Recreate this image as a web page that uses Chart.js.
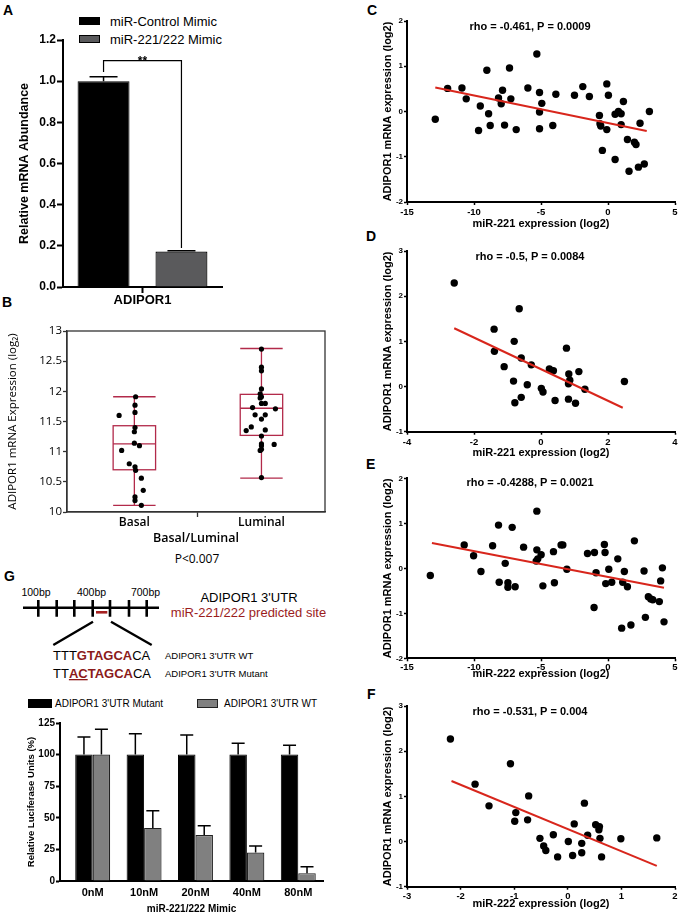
<!DOCTYPE html>
<html>
<head>
<meta charset="utf-8">
<script src="https://cdn.jsdelivr.net/npm/chart.js@4.4.1/dist/chart.umd.min.js"></script>
<style>
  body { margin: 0; background: #fff; font-family: "Liberation Sans", Arial, sans-serif; }
  #page { position: relative; width: 682px; height: 918px; overflow: hidden; background: #fff; }
  canvas { position: absolute; }
  .t { position: absolute; white-space: nowrap; line-height: 1; color: #000; }
  .lt { position: absolute; font-weight: bold; font-size: 14px; line-height: 1; }
  .sq { position: absolute; box-sizing: border-box; }
</style>
</head>
<body>
<div id="page">
  <div class="lt" style="left:3px;top:3px">A</div>
  <div class="lt" style="left:2px;top:295px">B</div>
  <div class="lt" style="left:4px;top:569px">G</div>
  <div class="lt" style="left:367px;top:3px">C</div>
  <div class="lt" style="left:366px;top:229px">D</div>
  <div class="lt" style="left:366px;top:457px">E</div>
  <div class="lt" style="left:367px;top:687px">F</div>

  <!-- legend A -->
  <div class="sq" style="left:79px;top:17px;width:21px;height:8px;background:#000"></div>
  <div class="t" style="left:110px;top:15px;font-size:13px">miR-Control Mimic</div>
  <div class="sq" style="left:79px;top:35px;width:21px;height:8px;background:#5a5a5c;border:1px solid #000"></div>
  <div class="t" style="left:110px;top:33px;font-size:13px">miR-221/222 Mimic</div>

  <div class="t" style="left:147px;top:553px;width:100px;text-align:center;font-size:12px;font-family:'Open Sans',sans-serif">P&lt;0.007</div>

  <!-- legend G -->
  <div class="sq" style="left:28px;top:699px;width:24px;height:9px;background:#000"></div>
  <div class="t" style="left:55px;top:698.5px;font-size:10px">ADIPOR1 3'UTR Mutant</div>
  <div class="sq" style="left:197px;top:699px;width:21px;height:9px;background:#808080;border:1px solid #222"></div>
  <div class="t" style="left:224px;top:698.5px;font-size:10px">ADIPOR1 3'UTR WT</div>

  <svg style="position:absolute;left:0;top:575px" width="340" height="110" viewBox="0 575 340 110">
    <g font-family="Liberation Sans, Arial, sans-serif">
      <text x="36" y="595.5" font-size="10.5" text-anchor="middle" fill="#000">100bp</text>
      <text x="91.5" y="595.5" font-size="10.5" text-anchor="middle" fill="#000">400bp</text>
      <text x="145.5" y="595.5" font-size="10.5" text-anchor="middle" fill="#000">700bp</text>
      <line x1="23" y1="607.7" x2="159" y2="607.7" stroke="#000" stroke-width="2.6"/>
      <path d="M38.3 600V616.7M56.7 600V616.7M74.3 600V616.7M92.7 600V616.7M110 600V616.7M129 600V616.7M146.7 600V616.7" stroke="#000" stroke-width="2.6"/>
      <line x1="96" y1="612.3" x2="107.3" y2="612.3" stroke="#a52020" stroke-width="2.6"/>
      <path d="M93 621.7L53.3 645M111 621.7L151.7 645" stroke="#000" stroke-width="2.4" fill="none"/>
      <text x="249" y="601.6" font-size="13" text-anchor="middle" fill="#000">ADIPOR1 3'UTR</text>
      <text x="248.5" y="617.3" font-size="13" fill="#9b1c1c" text-anchor="middle">miR-221/222 predicted site</text>
      <text x="53" y="659.7" font-size="13" fill="#000">TTT<tspan font-weight="bold" fill="#8b1a1a">GTAGCA</tspan><tspan fill="#000">CA</tspan></text>
      <text x="165" y="658.5" font-size="9.5" fill="#000">ADIPOR1 3'UTR WT</text>
      <text x="53" y="678" font-size="13" fill="#000">TT<tspan font-weight="bold" fill="#8b1a1a" text-decoration="underline">AC</tspan><tspan font-weight="bold" fill="#8b1a1a">TAGCA</tspan><tspan fill="#000">CA</tspan></text>
      <text x="165" y="676.8" font-size="9.5" fill="#000">ADIPOR1 3'UTR Mutant</text>
    </g>
  </svg>

  <canvas id="chartA" width="340" height="310" style="left:0;top:0"></canvas>
  <canvas id="chartB" width="340" height="232" style="left:0;top:315px"></canvas>
  <canvas id="chartG" width="340" height="203" style="left:0;top:715px"></canvas>
  <canvas id="chartC" width="342" height="231" style="left:340px;top:0"></canvas>
  <canvas id="chartD" width="342" height="230" style="left:340px;top:230px"></canvas>
  <canvas id="chartE" width="342" height="230" style="left:340px;top:455px"></canvas>
  <canvas id="chartF" width="342" height="233" style="left:340px;top:685px"></canvas>
</div>

<script>
// ---- data ----
const aLabels = ['ADIPOR1'];
const aControl = [1.0];
const aControlErr = [0.022];
const aMimic = [0.172];
const aMimicErr = [0.004];

const bCategories = ['Basal', 'Luminal'];
// min, q1, median, q3, max
const bBasalStats = [10.11, 10.70, 11.13, 11.43, 11.91];
const bLuminalStats = [10.56, 11.27, 11.72, 11.95, 12.71];
const bBasalPts = [[1.01,11.91],[1.005,11.77],[1.005,11.65],[0.88,11.60],[1.005,11.40],[1.0,11.33],[1.0,11.14],[1.04,11.10],[0.90,11.02],
  [0.96,10.80],[1.005,10.75],[1.01,10.69],[1.055,10.56],[1.07,10.36],[1.005,10.25],[1.005,10.19],[1.055,10.11]];
const bLuminalPts = [[2.0,12.70],[2.0,12.40],[2.0,12.34],[2.0,12.04],[1.99,11.96],[2.0,11.91],[1.99,11.89],[2.0,11.80],[2.03,11.80],
  [1.93,11.73],[2.11,11.71],[2.03,11.61],[1.95,11.61],[2.0,11.54],[1.88,11.35],[1.92,11.41],[2.03,11.36],[2.0,11.26],
  [2.0,11.13],[2.0,11.10],[2.10,11.12],[2.0,11.04],[1.99,11.02],[2.0,10.57]];

const gLabels = ['0nM', '10nM', '20nM', '40nM', '80nM'];
const gMutant = [100, 100, 100, 100, 100];
const gMutantErr = [14, 16.5, 15.5, 9, 7.3];
const gWT = [100, 42, 36.3, 22.6, 6.2];
const gWTErr = [20, 13.6, 7.4, 5.1, 5.1];

const cPoints = [[-12.89,-0.17],[-11.97,0.51],[-10.9,0.52],[-10.58,0.28],[-9.53,0.12],[-9.66,-0.42],[-9.04,0.91],[-8.91,-0.05],
  [-8.79,-0.31],[-8.17,0.30],[-7.97,0.17],[-7.87,0.47],[-7.72,-0.30],[-7.35,0.96],[-7.25,0.28],[-6.85,-0.40],[-5.98,0.52],
  [-5.31,1.27],[-5.11,0.42],[-4.94,0.18],[-5.11,-0.01],[-5.11,-0.38],[-4.12,-0.31],[-3.89,0.38],[-2.50,0.36],[-1.88,0.55],
  [-1.39,0.33],[-0.64,-0.09],[-0.54,-0.32],[-0.6,-0.27],[-0.42,-0.86],[-0.09,0.61],[0.03,0.36],[-0.09,-0.40],[0.53,-0.06],
  [0.78,0.0],[0.98,-0.05],[1.15,0.22],[0.98,-0.29],[0.53,-1.06],[1.45,-0.62],[1.57,-1.32],[1.97,-0.68],[2.09,-0.73],
  [2.39,-0.26],[2.27,-1.23],[2.71,-1.16],[3.09,0.0]];
const cLine = [[-12.89,0.53],[2.89,-0.43]];

const dPoints = [[-2.59,2.29],[-0.65,1.72],[-1.40,1.27],[-0.80,1.00],[-1.39,0.78],[-0.59,0.63],[-1.10,0.44],[-0.29,0.48],
  [-0.82,0.12],[-0.41,0.04],[0.25,0.39],[0.37,0.35],[0.01,-0.04],[0.06,-0.12],[-0.78,-0.36],[-0.59,-0.24],[0.42,-0.31],
  [0.76,0.85],[0.83,0.28],[0.86,0.14],[0.82,0.06],[1.13,0.33],[1.31,-0.06],[0.82,-0.28],[1.03,-0.37],[2.49,0.11]];
const dLine = [[-2.59,1.29],[2.44,-0.47]];

const ePoints = [[-13.26,-0.16],[-10.73,0.52],[-10.03,0.28],[-9.48,-0.07],[-8.61,0.50],[-8.17,0.96],[-8.12,-0.31],[-7.67,0.11],
  [-7.47,-0.32],[-7.47,-0.42],[-7.15,0.91],[-6.93,-0.41],[-6.30,0.47],[-5.31,1.27],[-5.31,0.41],[-5.36,0.16],[-5.24,0.21],
  [-4.99,0.30],[-4.86,-0.39],[-4.07,0.37],[-4.00,-0.32],[-3.50,0.52],[-3.37,0.52],[-3.07,-0.02],[-1.53,0.33],[-1.01,0.35],
  [-0.89,-0.10],[-1.04,-0.87],[-0.27,0.53],[-0.22,0.35],[-0.17,-0.34],[0.06,-0.02],[0.28,-0.31],[0.73,0.21],[1.10,-0.31],
  [1.22,-0.07],[1.45,-0.41],[1.97,0.61],[1.02,-1.33],[1.71,-1.26],[2.69,-0.06],[2.79,-1.09],[3.01,-0.63],[3.19,-0.68],
  [3.34,-0.70],[3.83,-0.74],[3.93,-0.28],[4.06,0.01],[4.18,-1.19]];
const eLine = [[-13.14,0.56],[4.18,-0.43]];

const fPoints = [[-2.19,2.27],[-1.07,1.72],[-1.73,1.27],[-0.73,1.01],[-1.47,0.79],[-0.97,0.64],[-0.99,0.45],[-0.75,0.48],
  [-0.52,0.07],[-0.45,-0.10],[-0.41,-0.20],[-0.27,0.15],[-0.19,-0.34],[0.01,0.0],[0.09,-0.31],[0.12,0.39],[0.31,0.85],
  [0.26,-0.04],[0.26,-0.25],[0.37,0.14],[0.52,0.37],[0.59,0.33],[0.58,0.26],[0.60,0.07],[0.63,-0.34],[0.99,0.06],[1.66,0.08]];
const fLine = [[-2.17,1.34],[1.66,-0.54]];

// ---- defaults ----
const FONT = '"Liberation Sans", Arial, sans-serif';
Chart.defaults.font.family = FONT;
Chart.defaults.color = '#000';
Chart.defaults.animation = false;
Chart.defaults.plugins.legend.display = false;
Chart.defaults.plugins.tooltip.enabled = false;

function mkAxis(o) {
  const a = {
    type: o.type || 'linear',
    position: o.pos,
    offset: !!o.offset,
    afterFit: o.pos === 'left' ? (s => { s.width = o.size; }) : (s => { s.height = o.size; }),
    border: { display: true, color: o.bc || '#000', width: o.bw || 2 },
    grid: { display: true, drawOnChartArea: false, drawTicks: true, offset: false,
            tickLength: o.tl, tickColor: o.tc || '#000', tickWidth: o.tw || 2 },
    ticks: { font: o.font, color: '#000', padding: o.pad, autoSkip: false, maxRotation: 0, minRotation: 0 },
    title: { display: !!o.title, text: o.title || '', font: o.tfont, color: '#000', padding: o.tpad || 0 }
  };
  if (o.min !== undefined) a.min = o.min;
  if (o.max !== undefined) a.max = o.max;
  if (o.step) a.ticks.stepSize = o.step;
  if (o.cb) a.ticks.callback = o.cb;
  if (o.abt) a.afterBuildTicks = o.abt;
  return a;
}

// error bars drawn up from each bar top
function errBars(errs, cap, lw) {
  return {
    id: 'errBars',
    afterDatasetsDraw(chart) {
      const ctx = chart.ctx, ys = chart.scales.y;
      ctx.save();
      ctx.strokeStyle = '#000';
      ctx.lineWidth = lw;
      errs.forEach((arr, di) => {
        chart.getDatasetMeta(di).data.forEach((bar, i) => {
          const raw = chart.data.datasets[di].data[i];
          const v = typeof raw === 'object' ? raw.y : raw;
          const y0 = ys.getPixelForValue(v), y1 = ys.getPixelForValue(v + arr[i]);
          ctx.beginPath();
          ctx.moveTo(bar.x, y0); ctx.lineTo(bar.x, y1);
          ctx.moveTo(bar.x - cap / 2, y1); ctx.lineTo(bar.x + cap / 2, y1);
          ctx.stroke();
        });
      });
      ctx.restore();
    }
  };
}

// ---- A ----
const bracket = {
  id: 'bracket',
  afterDraw(chart) {
    const ctx = chart.ctx, ys = chart.scales.y;
    const x0 = chart.getDatasetMeta(0).data[0].x, x1 = chart.getDatasetMeta(1).data[0].x;
    const yt = ys.getPixelForValue(1.1);
    ctx.save();
    ctx.strokeStyle = '#000'; ctx.lineWidth = 1.2;
    ctx.beginPath();
    ctx.moveTo(x0, ys.getPixelForValue(1.045)); ctx.lineTo(x0, yt);
    ctx.lineTo(x1, yt); ctx.lineTo(x1, ys.getPixelForValue(0.19));
    ctx.stroke();
    ctx.font = 'bold 12px ' + FONT; ctx.fillStyle = '#000'; ctx.textAlign = 'center';
    ctx.fillText('**', (x0 + x1) / 2, yt + 4.5);
    ctx.restore();
  }
};
new Chart(document.getElementById('chartA'), {
  type: 'bar',
  data: {
    labels: aLabels,
    datasets: [
      { data: aControl, backgroundColor: '#000', borderColor: '#000', borderWidth: 1, categoryPercentage: 0.98, barPercentage: 0.667 },
      { data: aMimic, backgroundColor: '#5a5a5c', borderColor: '#000', borderWidth: 1.2, categoryPercentage: 0.98, barPercentage: 0.667 }
    ]
  },
  options: {
    responsive: false,
    layout: { padding: { left: 0, right: 118, top: 40, bottom: 0 } },
    scales: {
      x: mkAxis({ type: 'category', pos: 'bottom', size: 23, offset: true, tl: 6, pad: 0, font: { size: 13, weight: 'bold' } }),
      y: mkAxis({ pos: 'left', size: 63, min: 0, max: 1.2, step: 0.2, tl: 6, pad: 1, font: { size: 12, weight: 'bold' },
        cb: v => v.toFixed(1), title: 'Relative mRNA Abundance', tfont: { size: 12.5, weight: 'bold' }, tpad: { top: 17.5, bottom: 0 } })
    }
  },
  plugins: [errBars([aControlErr, aMimicErr], 28, 1.5), bracket]
});

// ---- B (box plot) ----
const BOXC = '#b22a4a';
const boxes = {
  id: 'boxes',
  beforeDatasetsDraw(chart) {
    const ctx = chart.ctx, xs = chart.scales.x, ys = chart.scales.y;
    ctx.save();
    ctx.strokeStyle = BOXC; ctx.lineWidth = 1.3;
    [bBasalStats, bLuminalStats].forEach((s, i) => {
      const xc = xs.getPixelForValue(i + 1);
      const hw = xs.getPixelForValue(i + 1.167) - xc;
      const p = s.map(v => ys.getPixelForValue(v));
      ctx.beginPath();
      ctx.moveTo(xc, p[0]); ctx.lineTo(xc, p[1]);
      ctx.moveTo(xc, p[3]); ctx.lineTo(xc, p[4]);
      ctx.moveTo(xc - hw, p[0]); ctx.lineTo(xc + hw, p[0]);
      ctx.moveTo(xc - hw, p[4]); ctx.lineTo(xc + hw, p[4]);
      ctx.moveTo(xc - hw, p[2]); ctx.lineTo(xc + hw, p[2]);
      ctx.stroke();
      ctx.strokeRect(xc - hw, p[3], 2 * hw, p[1] - p[3]);
    });
    ctx.restore();
  },
  afterDraw(chart) {
    const a = chart.chartArea, ctx = chart.ctx;
    ctx.save(); ctx.strokeStyle = '#333'; ctx.lineWidth = 1.3;
    ctx.strokeRect(a.left, a.top, a.right - a.left, a.bottom - a.top);
    ctx.restore();
  }
};
new Chart(document.getElementById('chartB'), {
  type: 'scatter',
  data: {
    datasets: [
      { data: bBasalPts.map(p => ({ x: p[0], y: p[1] })), backgroundColor: '#000', borderWidth: 0, pointRadius: 2.6 },
      { data: bLuminalPts.map(p => ({ x: p[0], y: p[1] })), backgroundColor: '#000', borderWidth: 0, pointRadius: 2.6 }
    ]
  },
  options: {
    responsive: false,
    layout: { padding: { left: 0, right: 15, top: 16, bottom: 0 } },
    scales: {
      x: mkAxis({ pos: 'bottom', size: 35, min: 0.47, max: 2.5, tl: 5, tw: 1.3, bw: 1.3, bc: '#333', pad: -2,
        tc: c => (c.tick && c.tick.value === 1.5) ? '#333' : 'rgba(0,0,0,0)',
        abt: s => { s.ticks = [{ value: 1 }, { value: 1.5 }, { value: 2 }]; },
        cb: v => v === 1 ? bCategories[0] : (v === 2 ? bCategories[1] : ''),
        font: { family: '"Open Sans", sans-serif', size: 12, weight: '600' },
        title: 'Basal/Luminal', tfont: { family: '"Open Sans", sans-serif', size: 12.5, weight: '600' }, tpad: { top: 0, bottom: 1.5 } }),
      y: mkAxis({ pos: 'left', size: 67, min: 10, max: 13, step: 0.5, tl: 4, tw: 1.3, bw: 1.3, bc: '#333', tc: '#333', pad: 1,
        cb: v => String(v), font: { family: '"Open Sans", sans-serif', size: 11.5 },
        title: 'ADIPOR1 mRNA Expression (log\u2082)', tfont: { family: '"Open Sans", sans-serif', size: 11.5 }, tpad: { top: 6, bottom: 0 } })
    }
  },
  plugins: [boxes]
});

// ---- G (luciferase bars) ----
new Chart(document.getElementById('chartG'), {
  type: 'bar',
  data: {
    datasets: [
      { data: gMutant.map((v, i) => ({ x: i, y: v })), backgroundColor: '#000', borderColor: '#000', borderWidth: 1, categoryPercentage: 0.68, barPercentage: 1 },
      { data: gWT.map((v, i) => ({ x: i, y: v })), backgroundColor: '#808080', borderColor: '#222', borderWidth: 1.2, categoryPercentage: 0.68, barPercentage: 1 }
    ]
  },
  options: {
    responsive: false,
    layout: { padding: { left: 0, right: 17, top: 8, bottom: 0 } },
    scales: {
      x: mkAxis({ pos: 'bottom', size: 37, min: -0.636, max: 4.481, tl: 4, tc: 'rgba(0,0,0,0)', pad: 1.5,
        abt: s => { s.ticks = gLabels.map((l, i) => ({ value: i })); },
        cb: v => gLabels[v], font: { size: 11, weight: 'bold' },
        title: 'miR-221/222 Mimic', tfont: { size: 10, weight: 'bold' }, tpad: { top: 0, bottom: 3 } }),
      y: mkAxis({ pos: 'left', size: 60, min: 0, max: 125, step: 25, tl: 4, pad: 1, font: { size: 10, weight: 'bold' },
        title: 'Relative Luciferase Units (%)', tfont: { size: 9.5, weight: 'bold' }, tpad: { top: 26, bottom: 0 } })
    }
  },
  plugins: [errBars([gMutantErr, gWTErr], 13, 1.5)]
});

// ---- C-F correlation scatters ----
function corrTitle(text, dy) {
  return {
    id: 'corrTitle',
    afterDraw(chart) {
      const ctx = chart.ctx, a = chart.chartArea;
      ctx.save();
      ctx.font = 'bold 11px ' + FONT; ctx.fillStyle = '#000';
      ctx.textAlign = 'center'; ctx.textBaseline = 'middle';
      ctx.fillText(text, a.left + 123, a.top + dy);
      ctx.restore();
    }
  };
}
function scatter(id, pts, line, xr, yr, title, xTitle, cfg) {
  new Chart(document.getElementById(id), {
    type: 'scatter',
    data: {
      datasets: [
        { type: 'line', data: line.map(p => ({ x: p[0], y: p[1] })), borderColor: '#d8261c', borderWidth: 2, pointRadius: 0, fill: false },
        { data: pts.map(p => ({ x: p[0], y: p[1] })), backgroundColor: '#000', borderWidth: 0, pointRadius: 3.7 }
      ]
    },
    options: {
      responsive: false,
      layout: { padding: { left: 0, right: 7, top: cfg.top, bottom: 0 } },
      scales: {
        x: mkAxis({ pos: 'bottom', size: cfg.xh, min: xr[0], max: xr[1], step: xr[2], tl: 3, tw: 1.5, pad: cfg.tp,
          font: { size: 9.5, weight: 'bold' }, title: xTitle, tfont: { size: 11, weight: 'bold' }, tpad: { top: 0, bottom: cfg.tb } }),
        y: mkAxis({ pos: 'left', size: 67, min: yr[0], max: yr[1], step: yr[2], tl: 3, tw: 1.5, pad: 1,
          font: { size: 8, weight: 'bold' }, title: 'ADIPOR1 mRNA expression (log2)', tfont: { size: 11, weight: 'bold' },
          tpad: { top: 41.4, bottom: 0 } })
      }
    },
    plugins: [corrTitle(title, cfg.dy)]
  });
}
scatter('chartC', cPoints, cLine, [-15, 5, 5], [-2, 2, 1], 'rho = -0.461, P = 0.0009', 'miR-221 expression (log2)',
  { top: 21, xh: 29, tp: 1.5, tb: 0, dy: 6 });
scatter('chartD', dPoints, dLine, [-4, 4, 2], [-1, 3, 1], 'rho = -0.5, P = 0.0084', 'miR-221 expression (log2)',
  { top: 21, xh: 28.3, tp: 1.5, tb: 0.4, dy: 6 });
scatter('chartE', ePoints, eLine, [-15, 5, 5], [-2, 2, 1], 'rho = -0.4288, P = 0.0021', 'miR-222 expression (log2)',
  { top: 23.3, xh: 26.7, tp: 0.5, tb: 4.4, dy: 4.7 });
scatter('chartF', fPoints, fLine, [-3, 2, 1], [-1, 3, 1], 'rho = -0.531, P = 0.004', 'miR-222 expression (log2)',
  { top: 21, xh: 31.3, tp: 0.5, tb: 7.9, dy: 6.3 });
</script>
</body>
</html>
